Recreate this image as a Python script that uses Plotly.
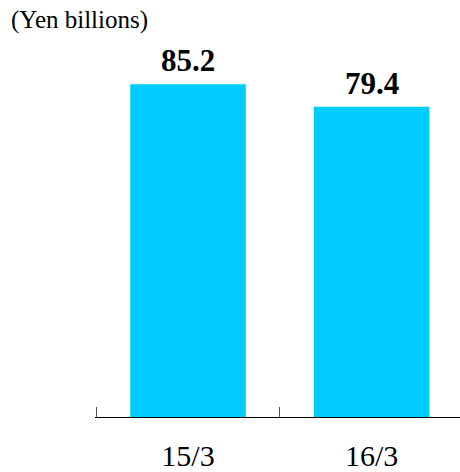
import plotly.graph_objects as go

# Fiscal year-end periods and values (Yen billions)
periods = ["15/3", "16/3"]
values = [85.2, 79.4]
value_labels = ["85.2", "79.4"]
unit_label = "(Yen billions)"
# Category boundaries where the short axis ticks sit
boundaries = [-0.5, 0.5, 1.5]

BAR_COLOR = "#00CCFF"
FONT = "Liberation Serif"
X_RANGE = [-0.507, 1.482]

fig = go.Figure(
    go.Bar(
        x=periods,
        y=values,
        marker=dict(color=BAR_COLOR, line=dict(width=0)),
        width=0.63,
        hoverinfo="skip",
    )
)

# Invisible helper trace so the boundary-tick axis gets drawn
fig.add_trace(
    go.Scatter(
        x=boundaries, y=[0] * len(boundaries), xaxis="x2",
        mode="none", hoverinfo="skip", showlegend=False,
    )
)

# Bold value labels above each bar
for p, v, t in zip(periods, values, value_labels):
    fig.add_annotation(
        x=p, y=v, text=f"<b>{t}</b>", showarrow=False,
        xanchor="center", yanchor="bottom", yshift=4,
        font=dict(family=FONT, size=31, color="#000000"),
    )

# Unit caption in the top-left corner
fig.add_annotation(
    x=0, y=1, xref="paper", yref="paper", xanchor="left", yanchor="top",
    text=unit_label, showarrow=False, xshift=-86, yshift=36,
    font=dict(family=FONT, size=25, color="#000000"),
)

fig.update_layout(
    width=460, height=472,
    margin=dict(l=95, r=0, t=40, b=49),
    paper_bgcolor="#FFFFFF", plot_bgcolor="#FFFFFF",
    showlegend=False,
    font=dict(family=FONT),
    xaxis=dict(
        type="category",
        range=X_RANGE,
        showline=True, linecolor="#000000", linewidth=1,
        ticks="",
        showgrid=False, zeroline=False,
        tickfont=dict(family=FONT, size=30, color="#000000"),
        ticklabelstandoff=12,
    ),
    # Overlaid axis that only carries the boundary tick marks
    xaxis2=dict(
        overlaying="x", anchor="y", side="bottom",
        range=X_RANGE,
        tickmode="array", tickvals=boundaries,
        ticks="inside", ticklen=10, tickcolor="#555555", tickwidth=1,
        showticklabels=False, showline=False,
        showgrid=False, zeroline=False,
    ),
    yaxis=dict(
        range=[0, 96.5],
        visible=False, showgrid=False, zeroline=False,
    ),
)

fig.write_html("out.html")
